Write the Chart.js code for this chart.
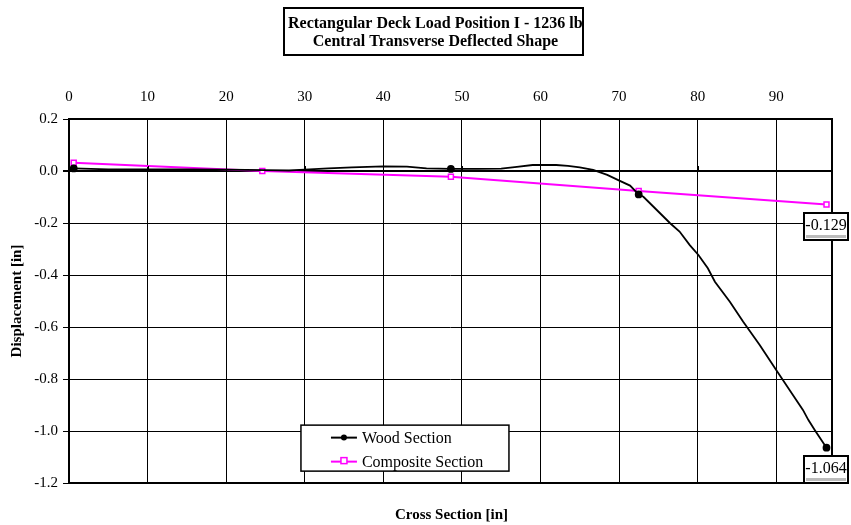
<!DOCTYPE html>
<html lang="en">
  <head>
    <meta charset="UTF-8" />
    <title>Central Transverse Deflected Shape</title>
    <script src="https://cdn.jsdelivr.net/npm/chart.js"></script>
    <style>
      body { margin: 0; background: #fff; }
    </style>
  </head>
  <body>
    <canvas id="deflChart" width="851" height="525"></canvas>

    <script>
      // cross section position [in] and displacement [in]
      const woodX = [0.6, 5, 10, 15, 20, 25, 28, 30, 33, 36, 40, 43, 45.5, 48.6, 52, 55, 57, 59, 62, 63.5, 65, 66.7, 68.5, 69.9, 71.4, 72.5,
        73.1, 74.8, 76.5, 77.7, 79.0, 80.1, 81.3, 82.2, 84.1, 85.8, 87.9, 90.0, 91.7, 93.4, 94.1, 94.9, 96.4];
      const woodY = [0.010, 0.006, 0.006, 0.006, 0.005, 0.003, 0.002, 0.005, 0.010, 0.014, 0.018, 0.017, 0.010, 0.008, 0.008, 0.009, 0.016, 0.023, 0.023, 0.020, 0.014, 0.004, -0.015, -0.035, -0.056, -0.090,
        -0.099, -0.150, -0.201, -0.233, -0.285, -0.323, -0.374, -0.426, -0.503, -0.580, -0.669, -0.765, -0.842, -0.919, -0.958, -0.996, -1.064];
      const woodMarked = [0.6, 48.6, 72.5, 96.4]; // gauge positions shown with a marker
      const compX = [0.6, 24.6, 48.6, 72.5, 96.4];
      const compY = [0.032, 0.0, -0.022, -0.077, -0.129];
      const xTicks = [0, 10, 20, 30, 40, 50, 60, 70, 80, 90];
      const yTicks = [0.2, 0.0, -0.2, -0.4, -0.6, -0.8, -1.0, -1.2];
      const endLabels = ["-1.064", "-0.129"];
      const seriesNames = ["Wood Section", "Composite Section"];
      const titleLines = ["Rectangular Deck Load Position I - 1236 lb", "Central Transverse Deflected Shape"];

      const SERIF = "'Liberation Serif', 'Times New Roman', serif";
      const MAGENTA = "#ff00ff";

      const decor = {
        id: "decor",
        afterDatasetsDraw(chart) {
          const ctx = chart.ctx;
          const a = chart.chartArea;
          const xs = chart.scales.x;
          const ys = chart.scales.y;
          ctx.save();

          // plot frame
          ctx.strokeStyle = "#000";
          ctx.lineWidth = 2;
          ctx.strokeRect(a.left, a.top, a.right - a.left, a.bottom - a.top);

          // small tick marks on the zero line
          const y0 = ys.getPixelForValue(0);
          ctx.lineWidth = 1;
          ctx.beginPath();
          xTicks.forEach((v) => {
            const px = Math.round(xs.getPixelForValue(v)) + 0.5;
            ctx.moveTo(px, y0);
            ctx.lineTo(px, y0 - 5);
          });
          ctx.stroke();

          // value boxes at the last point of each series
          ctx.font = "16px " + SERIF;
          ctx.textAlign = "center";
          ctx.textBaseline = "middle";
          chart.data.datasets.forEach((ds, i) => {
            const meta = chart.getDatasetMeta(i);
            const pt = meta.data[meta.data.length - 1];
            const w = 44, h = 27;
            const bx = Math.round(pt.x - w / 2), by = Math.round(pt.y + 8);
            ctx.fillStyle = "#fff";
            ctx.fillRect(bx, by, w, h);
            ctx.fillStyle = "#bbb";
            ctx.fillRect(bx + 2, by + h - 5, w - 4, 3);
            ctx.strokeStyle = "#000";
            ctx.lineWidth = 2;
            ctx.strokeRect(bx, by, w, h);
            ctx.fillStyle = "#000";
            ctx.fillText(endLabels[i], bx + w / 2, by + h / 2 - 1);
          });

          // legend box inside the plot
          const lx = a.left + 0.304 * (a.right - a.left);
          const ly = a.top + 0.841 * (a.bottom - a.top);
          ctx.fillStyle = "#fff";
          ctx.fillRect(lx, ly, 208, 46);
          ctx.strokeStyle = "#000";
          ctx.lineWidth = 1.5;
          ctx.strokeRect(lx, ly, 208, 46);
          ctx.font = "16px " + SERIF;
          ctx.textAlign = "left";
          [0, 1].forEach((i) => {
            const cy = ly + 12.5 + i * 24;
            const color = i === 0 ? "#000" : MAGENTA;
            ctx.strokeStyle = color;
            ctx.lineWidth = 2;
            ctx.beginPath();
            ctx.moveTo(lx + 30, cy);
            ctx.lineTo(lx + 56, cy);
            ctx.stroke();
            if (i === 0) {
              ctx.fillStyle = "#000";
              ctx.beginPath();
              ctx.arc(lx + 43, cy, 3, 0, Math.PI * 2);
              ctx.fill();
            } else {
              ctx.fillStyle = "#fff";
              ctx.fillRect(lx + 40, cy - 4, 6, 6);
              ctx.lineWidth = 1.5;
              ctx.strokeRect(lx + 40, cy - 4, 6, 6);
            }
            ctx.fillStyle = "#000";
            ctx.fillText(seriesNames[i], lx + 61, cy + 1);
          });

          ctx.restore();
        },
        afterDraw(chart) {
          const ctx = chart.ctx;
          const a = chart.chartArea;
          ctx.save();
          // boxed title
          const tx = 284, ty = 8, tw = 299, th = 47;
          ctx.fillStyle = "#fff";
          ctx.fillRect(tx, ty, tw, th);
          ctx.beginPath();
          ctx.rect(tx, ty, tw, th);
          ctx.clip();
          ctx.fillStyle = "#000";
          ctx.font = "bold 16px " + SERIF;
          ctx.textBaseline = "middle";
          ctx.textAlign = "left";
          ctx.fillText(titleLines[0], tx + 4, ty + 16);
          ctx.textAlign = "center";
          ctx.fillText(titleLines[1], tx + tw / 2 + 2, ty + 34);
          ctx.restore();
          ctx.save();
          ctx.strokeStyle = "#000";
          ctx.lineWidth = 2;
          ctx.strokeRect(tx, ty, tw, th);
          // x axis title at bottom
          ctx.fillStyle = "#000";
          ctx.font = "bold 15px " + SERIF;
          ctx.textAlign = "center";
          ctx.textBaseline = "middle";
          ctx.fillText("Cross Section [in]", (a.left + a.right) / 2 + 1, 515);
          ctx.restore();
        },
      };

      new Chart(document.getElementById("deflChart"), {
        type: "line",
        data: {
          datasets: [
            {
              label: seriesNames[0],
              data: woodX.map((x, i) => ({ x: x, y: woodY[i] })),
              borderColor: "#000",
              backgroundColor: "#000",
              borderWidth: 1.8,
              pointRadius: woodX.map((x) => (woodMarked.includes(x) ? 3 : 0)),
              pointHoverRadius: 0,
              tension: 0,
              fill: false,
            },
            {
              label: seriesNames[1],
              data: compX.map((x, i) => ({ x: x, y: compY[i] })),
              borderColor: MAGENTA,
              backgroundColor: "#fff",
              borderWidth: 2,
              pointStyle: "rect",
              pointRadius: 3.5,
              pointBorderWidth: 1.5,
              tension: 0,
              fill: false,
            },
          ],
        },
        options: {
          responsive: false,
          animation: false,
          layout: { padding: { top: 0, left: 0, right: 19, bottom: 42 } },
          plugins: {
            legend: { display: false },
            title: { display: false },
            tooltip: { enabled: false },
          },
          scales: {
            x: {
              type: "linear",
              position: "top",
              min: 0,
              max: 97.1,
              afterBuildTicks: (s) => { s.ticks = xTicks.map((v) => ({ value: v })); },
              afterFit: (s) => { s.height = 119; },
              grid: { color: "#000", lineWidth: 1, drawTicks: false },
              border: { display: false },
              ticks: {
                color: "#000",
                padding: 13,
                maxRotation: 0,
                font: { family: SERIF, size: 15 },
                callback: (v) => String(v),
              },
            },
            y: {
              min: -1.2,
              max: 0.2,
              afterBuildTicks: (s) => { s.ticks = yTicks.map((v) => ({ value: v })); },
              afterFit: (s) => { s.width = 69; },
              grid: {
                color: "#000",
                lineWidth: (c) => (c.tick && c.tick.value === 0 ? 2 : 1),
                tickLength: 6,
              },
              border: { display: false },
              ticks: {
                color: "#000",
                padding: 5,
                font: { family: SERIF, size: 15 },
                callback: (v) => Number(v).toFixed(1),
              },
              title: {
                display: true,
                text: "Displacement [in]",
                color: "#000",
                font: { family: SERIF, size: 15, weight: "bold" },
                padding: { top: 8, bottom: 0 },
              },
            },
          },
        },
        plugins: [decor],
      });
    </script>
  </body>
</html>
